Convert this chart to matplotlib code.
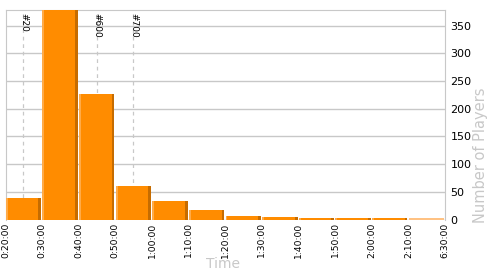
#!/usr/bin/env python3
"""Finish-time histogram: number of players per 10-minute bin."""

import matplotlib
matplotlib.use("Agg")
import matplotlib.pyplot as plt
import numpy as np

# bin edge labels (12 bins, last one runs up to 6:30:00)
edge_labels = ["0:20:00", "0:30:00", "0:40:00", "0:50:00", "1:00:00", "1:10:00",
               "1:20:00", "1:30:00", "1:40:00", "1:50:00", "2:00:00", "2:10:00",
               "6:30:00"]
players = [39, 395, 227, 61, 33, 18, 7, 5, 3, 3, 3, 3]

# rank markers, positions in bin units
marker_labels = ["#20", "#600", "#700"]
marker_pos = [0.49, 2.49, 3.49]

ORANGE = "#ff8c00"
LIGHT = "#ffab48"
DARK = "#c66c00"
LAST = "#ffc283"
GRID = "#c8c8c8"

fig = plt.figure(figsize=(5, 2.75), dpi=100)
ax = fig.add_axes([0.011, 0.2018, 0.879, 0.7607])

n = len(players)
x = np.arange(n)
colors = [ORANGE] * (n - 1) + [LAST]

ax.bar(x + 0.01, players, width=0.965, align="edge", color=colors, zorder=3)
ax.bar(x[:-1] + 0.01, players[:-1], width=0.05, align="edge", color=LIGHT, zorder=4)
ax.bar(x[:-1] + 0.975 - 0.075, players[:-1], width=0.075, align="edge", color=DARK, zorder=4)

for pos, lab in zip(marker_pos, marker_labels):
    ax.axvline(pos, color=GRID, lw=0.9, ls=(0, (3, 3)), zorder=1)
    ax.text(pos, 374, lab, rotation=270, ha="center", va="top", fontsize=6.5, zorder=2)

ax.set_xlim(0, n)
ax.set_ylim(0, 378)

ax.set_xticks(np.arange(n + 1))
ax.set_xticklabels(edge_labels, rotation=90, fontsize=6.6, va="top", ha="center")
ax.tick_params(axis="x", length=0, pad=2)

ax.yaxis.tick_right()
ax.set_yticks(np.arange(0, 351, 50))
ax.tick_params(axis="y", length=0, labelsize=8, pad=4)
ax.yaxis.grid(True, color=GRID, lw=1, zorder=0)

for side in ["left", "top", "right"]:
    ax.spines[side].set_color(GRID)
ax.spines["bottom"].set_visible(False)

fig.text(0.447, 0.04, "Time", ha="center", va="center", fontsize=10, color=GRID)
fig.text(0.962, 0.437, "Number of Players", ha="center", va="center",
         rotation=90, fontsize=10.5, color=GRID)

fig.savefig("out.png", dpi=100)
